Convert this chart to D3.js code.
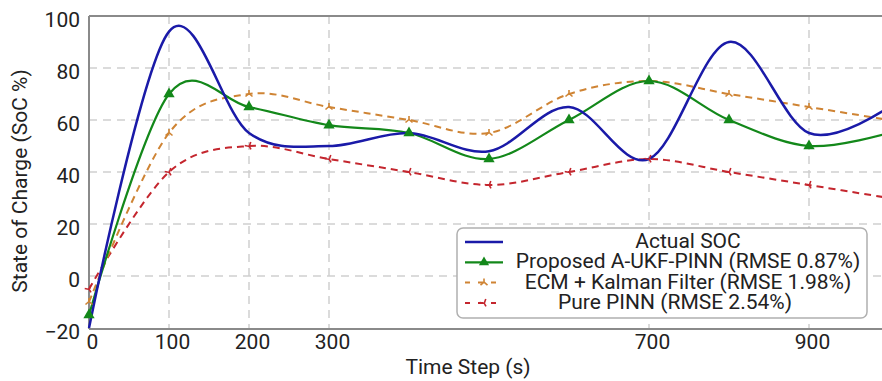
<!DOCTYPE html>
<html>
<head>
<meta charset="utf-8">
<script src="https://cdn.jsdelivr.net/npm/d3@7"></script>
<style>
  html, body { margin: 0; padding: 0; background: #fff; }
  svg { display: block; font-family: Roboto, "Noto Sans", sans-serif; }
</style>
</head>
<body>
<svg id="chart" width="882" height="381"></svg>
<script>
// ---- data ----
const timeSteps = [0, 100, 200, 300, 400, 500, 600, 700, 800, 900, 1000];
const actualSOC = [-20, 94, 55, 50, 55, 48, 65, 45, 90, 55, 65];
const proposedPINN = [-15, 70, 65, 58, 55, 45, 60, 75, 60, 50, 55];
const ecmKalman = [-10, 55, 70, 65, 60, 55, 70, 75, 70, 65, 60];
const purePINN = [-5, 40, 50, 45, 40, 35, 40, 45, 40, 35, 30];
const xTicks = [0, 100, 200, 300, 700, 900];
const yTicks = [-20, 0, 20, 40, 60, 80, 100];
const seriesNames = [
  "Actual SOC",
  "Proposed A-UKF-PINN (RMSE 0.87%)",
  "ECM + Kalman Filter (RMSE 1.98%)",
  "Pure PINN (RMSE 2.54%)"
];

const svg = d3.select("#chart");
const L = 89, R = 882, T = 16, B = 328;
const x = d3.scaleLinear().domain([0, 1000]).range([L, L + 800]);
const y = d3.scaleLinear().domain([-20, 100]).range([B, T]);

// gridlines
const grid = svg.append("g");
grid.selectAll("line.h").data(yTicks.filter(v => v > -20 && v < 100)).join("line")
  .attr("x1", L).attr("x2", R).attr("y1", d => y(d)).attr("y2", d => y(d))
  .attr("stroke", "#cfcfcf").attr("stroke-width", 1.5).attr("stroke-dasharray", "8,6");
grid.selectAll("line.v").data(xTicks.filter(v => v > 0)).join("line")
  .attr("y1", T).attr("y2", B).attr("x1", d => x(d)).attr("x2", d => x(d))
  .attr("stroke", "#cfcfcf").attr("stroke-width", 1.5).attr("stroke-dasharray", "8,6");

// axes
const yAxis = svg.append("g").attr("transform", `translate(${L},0)`)
  .call(d3.axisLeft(y).tickValues(yTicks).tickSize(0).tickPadding(9));
yAxis.select(".domain").remove();
yAxis.selectAll("text").attr("font-size", 21).attr("fill", "#222").attr("dy", "0.5em")
  .attr("font-family", "Roboto");

const xAxis = svg.append("g").attr("transform", `translate(0,${B})`)
  .call(d3.axisBottom(x).tickValues(xTicks).tickSize(0).tickPadding(6));
xAxis.select(".domain").remove();
xAxis.selectAll("text").attr("font-size", 21).attr("fill", "#222").attr("dx", 3)
  .attr("font-family", "Roboto");

// frame
svg.append("line").attr("x1", L).attr("x2", R).attr("y1", T).attr("y2", T)
  .attr("stroke", "#8a8a8a").attr("stroke-width", 2);
svg.append("line").attr("x1", L).attr("x2", L).attr("y1", T).attr("y2", B + 1)
  .attr("stroke", "#8a8a8a").attr("stroke-width", 2);
svg.append("line").attr("x1", L).attr("x2", R).attr("y1", B + 1).attr("y2", B + 1)
  .attr("stroke", "#8a8a8a").attr("stroke-width", 2);

// axis titles
svg.append("text").attr("x", 468).attr("y", 374).attr("text-anchor", "middle")
  .attr("font-size", 21).attr("fill", "#222").text("Time Step (s)");
svg.append("text").attr("transform", "translate(27,181) rotate(-90)")
  .attr("text-anchor", "middle").attr("font-size", 21).attr("fill", "#222")
  .text("State of Charge (SoC %)");

// lines
const line = d3.line().x(d => x(d[0])).y(d => y(d[1])).curve(d3.curveCardinal.tension(0));
const zip = vals => timeSteps.map((t, i) => [t, vals[i]]);

const blue = "#1a1aa8", green = "#13881a", orange = "#cf8434", red = "#c4262e";
const triPath = "M-3.5,-2.5 L0,0.5 L3.5,-2.5 M0,0.5 L0,4";

svg.append("path").datum(zip(purePINN)).attr("d", line).attr("fill", "none")
  .attr("stroke", red).attr("stroke-width", 2).attr("stroke-dasharray", "7,5");
svg.append("path").datum(zip(ecmKalman)).attr("d", line).attr("fill", "none")
  .attr("stroke", orange).attr("stroke-width", 2).attr("stroke-dasharray", "7,5");
svg.append("path").datum(zip(proposedPINN)).attr("d", line).attr("fill", "none")
  .attr("stroke", green).attr("stroke-width", 2.2);
svg.append("path").datum(zip(actualSOC)).attr("d", line).attr("fill", "none")
  .attr("stroke", blue).attr("stroke-width", 2.5);

// markers
svg.append("g").selectAll("path").data(zip(purePINN)).join("path")
  .attr("transform", d => `translate(${x(d[0])},${y(d[1])}) rotate(-30)`)
  .attr("d", triPath).attr("fill", "none").attr("stroke", red).attr("stroke-width", 1.6);
svg.append("g").selectAll("path").data(zip(ecmKalman)).join("path")
  .attr("transform", d => `translate(${x(d[0])},${y(d[1])}) rotate(180)`)
  .attr("d", triPath).attr("fill", "none").attr("stroke", orange).attr("stroke-width", 1.6);
svg.append("g").selectAll("path").data(zip(proposedPINN)).join("path")
  .attr("transform", d => `translate(${x(d[0])},${y(d[1])})`)
  .attr("d", d3.symbol(d3.symbolTriangle, 55)).attr("fill", green);

// legend
const lg = svg.append("g");
lg.append("rect").attr("x", 457).attr("y", 228).attr("width", 410).attr("height", 90)
  .attr("rx", 6).attr("fill", "#fff").attr("stroke", "#b0b0b0").attr("stroke-width", 1.5);
const legendColors = [blue, green, orange, red];
const legendCenters = [688, 688, 688, 675];
seriesNames.forEach((name, i) => {
  const ly = 242 + i * 20.3;
  const g = lg.append("g");
  if (i < 2) {
    g.append("line").attr("x1", 465).attr("x2", 503).attr("y1", ly).attr("y2", ly)
      .attr("stroke", legendColors[i]).attr("stroke-width", i === 0 ? 2.5 : 2.2);
    if (i === 1) g.append("path").attr("transform", `translate(484,${ly})`)
      .attr("d", d3.symbol(d3.symbolTriangle, 45)).attr("fill", green);
  } else {
    g.append("line").attr("x1", 465).attr("x2", 503).attr("y1", ly).attr("y2", ly)
      .attr("stroke", legendColors[i]).attr("stroke-width", 2).attr("stroke-dasharray", "5,8");
    g.append("path").attr("transform", `translate(484,${ly}) rotate(${i === 2 ? 180 : -30})`)
      .attr("d", triPath).attr("fill", "none").attr("stroke", legendColors[i]).attr("stroke-width", 1.6);
  }
  g.append("text").attr("x", legendCenters[i]).attr("y", ly + 6).attr("text-anchor", "middle")
    .attr("font-size", 21).attr("fill", "#222").text(name);
});
</script>
</body>
</html>
